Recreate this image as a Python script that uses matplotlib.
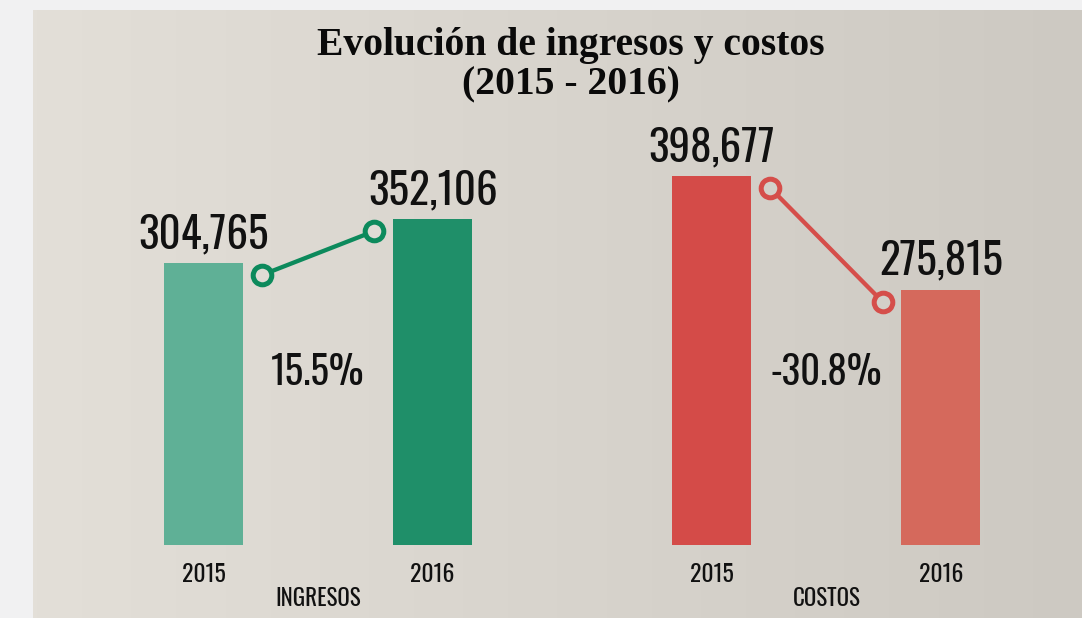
import numpy as np
import matplotlib
matplotlib.use("Agg")
import matplotlib.pyplot as plt
import matplotlib.transforms as mtransforms

# Data
groups = ["INGRESOS", "COSTOS"]
years = ["2015", "2016"]
ingresos = [304765, 352106]
costos = [398677, 275815]

bar_colors = {"INGRESOS": ["#5fb096", "#1f8f69"], "COSTOS": ["#d44b48", "#d5695c"]}
line_colors = {"INGRESOS": "#0c8a5c", "COSTOS": "#d54e4a"}

cond = ["Oswald", "Roboto Condensed", "DejaVu Sans"]
serif = ["Liberation Serif", "DejaVu Serif"]

fig = plt.figure(figsize=(10.82, 6.18), dpi=100)
fig.patch.set_facecolor("#f1f1f2")

# Beige panel with a soft left-to-right gradient
bg = fig.add_axes([33 / 1082, 0, 1 - 33 / 1082, 608 / 618])
grad = np.linspace(0, 1, 256).reshape(1, -1)
c0 = np.array([227, 223, 216]) / 255
c1 = np.array([205, 201, 194]) / 255
img = c0[None, None, :] * (1 - grad[..., None]) + c1[None, None, :] * grad[..., None]
bg.imshow(img, aspect="auto", extent=[0, 1, 0, 1])
bg.axis("off")

ax = fig.add_axes([0, 0, 1, 1])
ax.patch.set_alpha(0)
ax.axis("off")
ax.set_xlim(-0.889, 3.836)
ax.set_ylim(-79000, 589000)

width = 0.345
positions = {"INGRESOS": [0.0, 1.0], "COSTOS": [2.22, 3.22]}
values = {"INGRESOS": ingresos, "COSTOS": costos}
circle_face = {"INGRESOS": "#e0dcd5", "COSTOS": "#d3d0c9"}

below = mtransforms.offset_copy(ax.transData, fig=fig, x=0, y=-12, units="dots")
xaxis_tr = ax.get_xaxis_transform()

for g in groups:
    xs = positions[g]
    vals = values[g]
    ax.bar(xs, vals, width=width, color=bar_colors[g], zorder=2)

    # connector between the two bars
    cx = [xs[0] + 0.255, xs[1] - 0.255]
    ax.plot(cx, vals, color=line_colors[g], lw=3.1, marker="o", ms=13.4,
            mec=line_colors[g], mfc=circle_face[g], mew=3.6,
            transform=below, zorder=3)

    for x, v, yr in zip(xs, vals, years):
        ax.annotate(f"{v:,}", (x, v), xytext=(0, 15), textcoords="offset pixels",
                    ha="center", va="baseline", fontsize=31, family=cond,
                    color="#111111")
        ax.text(x, 36 / 618, yr, transform=xaxis_tr, ha="center",
                va="baseline", fontsize=17, family=cond, color="#111111")

    mid = (xs[0] + xs[1]) / 2
    pct = (vals[1] / vals[0] - 1) * 100
    ax.text(mid, 233 / 618, f"{pct:.1f}%", transform=xaxis_tr, ha="center",
            va="baseline", fontsize=28, family=cond, color="#111111")
    ax.text(mid, 12 / 618, g, transform=xaxis_tr, ha="center",
            va="baseline", fontsize=16.5, family=cond, color="#111111")

fig.text(571 / 1082, 1 - 55 / 618, "Evolución de ingresos y costos",
         ha="center", va="baseline", fontsize=28.5, fontweight="bold",
         family=serif, color="#0a0a0a")
fig.text(571 / 1082, 1 - 94 / 618, "(2015 - 2016)",
         ha="center", va="baseline", fontsize=28.5, fontweight="bold",
         family=serif, color="#0a0a0a")

fig.savefig("out.png", dpi=100, facecolor=fig.get_facecolor())
